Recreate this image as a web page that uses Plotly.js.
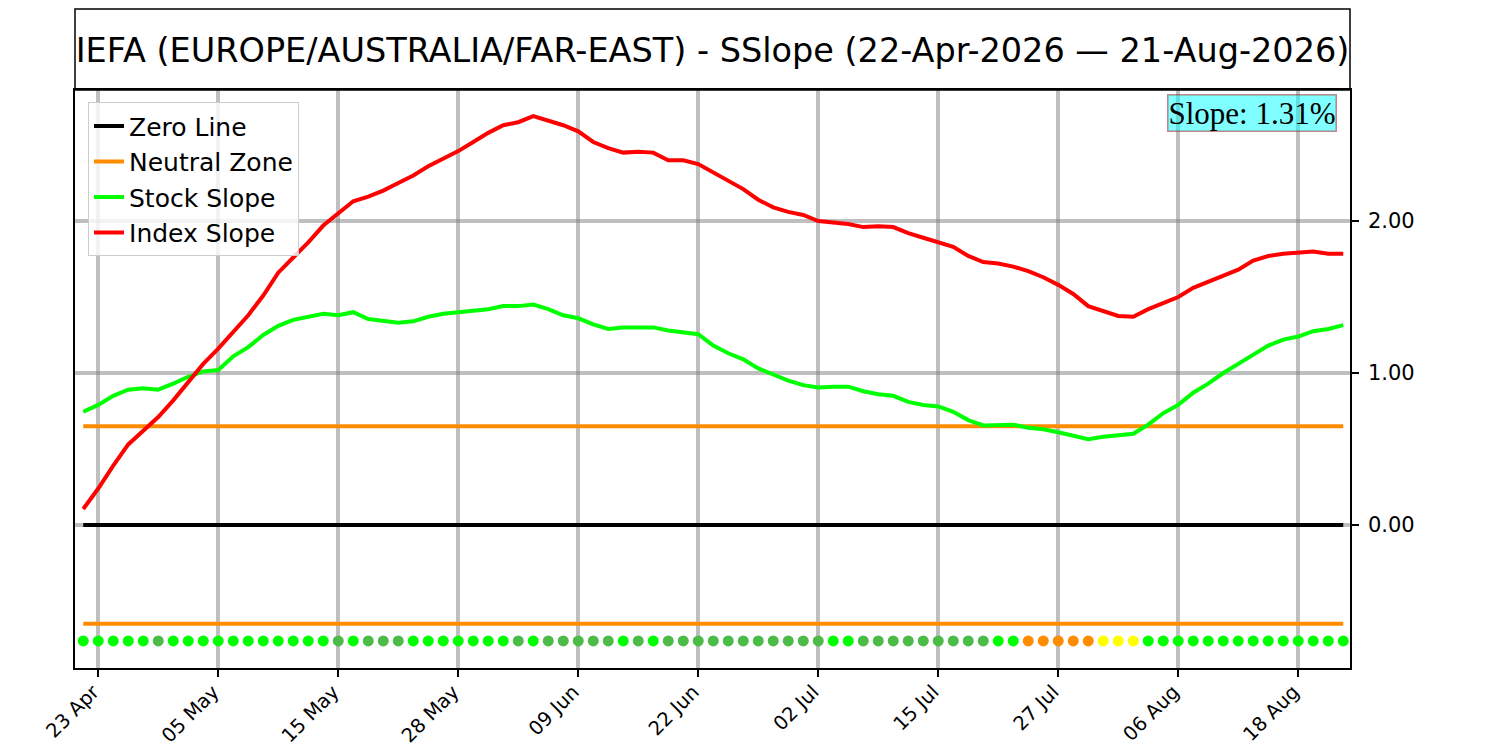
<!DOCTYPE html>
<html>
<head>
<meta charset="utf-8">
<script src="https://cdn.plot.ly/plotly-3.0.1.min.js"></script>
<style>body{margin:0;background:#fff}</style>
</head>
<body>
<div id="chart" style="width:1500px;height:750px"></div>
<script>
// trading days, 22 Apr 2026 -> 21 Aug 2026
const dates = [
  '2026-04-22','2026-04-23','2026-04-24','2026-04-27','2026-04-28','2026-04-29','2026-04-30',
  '2026-05-01','2026-05-04','2026-05-05','2026-05-06','2026-05-07','2026-05-08','2026-05-11',
  '2026-05-12','2026-05-13','2026-05-14','2026-05-15','2026-05-18','2026-05-19','2026-05-20',
  '2026-05-21','2026-05-22','2026-05-26','2026-05-27','2026-05-28','2026-05-29',
  '2026-06-01','2026-06-02','2026-06-03','2026-06-04','2026-06-05','2026-06-08','2026-06-09',
  '2026-06-10','2026-06-11','2026-06-12','2026-06-15','2026-06-16','2026-06-17','2026-06-18',
  '2026-06-22','2026-06-23','2026-06-24','2026-06-25','2026-06-26','2026-06-29','2026-06-30',
  '2026-07-01','2026-07-02','2026-07-06','2026-07-07','2026-07-08','2026-07-09','2026-07-10',
  '2026-07-13','2026-07-14','2026-07-15','2026-07-16','2026-07-17','2026-07-20','2026-07-21',
  '2026-07-22','2026-07-23','2026-07-24','2026-07-27','2026-07-28','2026-07-29','2026-07-30',
  '2026-07-31','2026-08-03','2026-08-04','2026-08-05','2026-08-06','2026-08-07','2026-08-10',
  '2026-08-11','2026-08-12','2026-08-13','2026-08-14','2026-08-17','2026-08-18','2026-08-19',
  '2026-08-20','2026-08-21'
];

const stockSlope = [
  0.745, 0.79, 0.85, 0.89, 0.90, 0.89, 0.93, 0.975, 1.01, 1.02,
  1.11, 1.17, 1.25, 1.31, 1.35, 1.37, 1.39, 1.38, 1.40, 1.355,
  1.34, 1.33, 1.34, 1.37, 1.39, 1.40, 1.41, 1.42, 1.44, 1.44,
  1.45, 1.42, 1.38, 1.36, 1.32, 1.29, 1.30, 1.30, 1.30, 1.28,
  1.27, 1.255, 1.18, 1.13, 1.09, 1.03, 0.99, 0.95, 0.92, 0.905,
  0.91, 0.91, 0.88, 0.86, 0.85, 0.81, 0.79, 0.78, 0.745, 0.69,
  0.655, 0.655, 0.66, 0.64, 0.63, 0.61, 0.585, 0.565, 0.58, 0.59,
  0.60, 0.66, 0.735, 0.79, 0.87, 0.93, 1.00, 1.06, 1.12, 1.18,
  1.22, 1.24, 1.275, 1.29, 1.315
];

const indexSlope = [
  0.105, 0.24, 0.39, 0.53, 0.62, 0.71, 0.82, 0.94, 1.06, 1.16,
  1.27, 1.38, 1.51, 1.66, 1.76, 1.86, 1.97, 2.05, 2.13, 2.16,
  2.20, 2.25, 2.30, 2.36, 2.41, 2.46, 2.52, 2.58, 2.63, 2.65,
  2.69, 2.66, 2.63, 2.59, 2.52, 2.48, 2.45, 2.455, 2.45, 2.40,
  2.40, 2.375, 2.32, 2.27, 2.21, 2.14, 2.09, 2.06, 2.04, 2.00,
  1.99, 1.98, 1.96, 1.965, 1.96, 1.92, 1.89, 1.86, 1.83, 1.77,
  1.73, 1.72, 1.70, 1.67, 1.63, 1.58, 1.52, 1.44, 1.41, 1.375,
  1.37, 1.42, 1.46, 1.50, 1.56, 1.60, 1.64, 1.68, 1.74, 1.77,
  1.785, 1.79, 1.80, 1.785, 1.785
];

// daily signal: G strong, g weak, O warning, Y caution
const dotStatus = [
  'G','G','G','G','G','g','G','G','G','G',
  'G','G','G','G','G','G','G','g','G','g',
  'g','g','G','G','G','G','G','G','G','g',
  'G','g','g','g','g','g','G','g','G','g',
  'g','g','g','g','g','g','g','g','g','g',
  'G','G','g','g','g','g','g','g','g','g',
  'g','G','G','O','O','O','O','O','Y','Y',
  'Y','G','G','G','G','G','G','G','G','G',
  'G','G','G','G','G'
];
const statusColors = {G: '#00ff00', g: '#4cbb47', O: '#ff8c00', Y: '#ffff00'};

const tickDates = ['2026-04-23','2026-05-05','2026-05-15','2026-05-28','2026-06-09','2026-06-22',
  '2026-07-02','2026-07-15','2026-07-27','2026-08-06','2026-08-18'];
const tickLabels = ['23 Apr','05 May','15 May','28 May','09 Jun','22 Jun',
  '02 Jul','15 Jul','27 Jul','06 Aug','18 Aug'];

const neutralLevel = 0.65;
const dotLevel = -0.763;
const currentSlope = 1.31;

const gridCol = 'rgba(128,128,128,0.5)';

const zeroLine = {
  x: dates, y: dates.map(() => 0), type: 'scatter', mode: 'lines',
  name: 'Zero Line', legendgroup: 'zero',
  line: {color: '#000000', width: 4}
};
const neutralUp = {
  x: dates, y: dates.map(() => neutralLevel), type: 'scatter', mode: 'lines',
  name: 'Neutral Zone', legendgroup: 'neutral',
  line: {color: '#ff8c00', width: 4}
};
const neutralDown = {
  x: dates, y: dates.map(() => -neutralLevel), type: 'scatter', mode: 'lines',
  name: 'Neutral Zone', legendgroup: 'neutral', showlegend: false,
  line: {color: '#ff8c00', width: 4}
};
const stockTrace = {
  x: dates, y: stockSlope, type: 'scatter', mode: 'lines',
  name: 'Stock Slope', legendgroup: 'stock',
  line: {color: '#00ff00', width: 4}
};
const indexTrace = {
  x: dates, y: indexSlope, type: 'scatter', mode: 'lines',
  name: 'Index Slope', legendgroup: 'index',
  line: {color: '#ff0000', width: 4}
};
const dots = {
  x: dates, y: dates.map(() => dotLevel), type: 'scatter', mode: 'markers',
  showlegend: false,
  marker: {size: 11, color: dotStatus.map(s => statusColors[s]), line: {width: 0}}
};

const data = [zeroLine, neutralUp, neutralDown, stockTrace, indexTrace, dots];

const layout = {
  width: 1500,
  height: 750,
  margin: {l: 75, r: 150, t: 90, b: 82},
  paper_bgcolor: '#ffffff',
  plot_bgcolor: '#ffffff',
  font: {family: 'DejaVu Sans', color: '#000000'},
  title: {
    text: 'IEFA (EUROPE/AUSTRALIA/FAR-EAST) - SSlope (22-Apr-2026 \u2014 21-Aug-2026)',
    font: {size: 33.5, family: 'DejaVu Sans'},
    x: 0.5, xref: 'paper', xanchor: 'center',
    y: 1 - 50 / 750, yref: 'container', yanchor: 'middle'
  },
  showlegend: true,
  legend: {
    x: 0.0102, y: 0.979, xanchor: 'left', yanchor: 'top',
    bgcolor: 'rgba(255,255,255,0.8)', bordercolor: '#cccccc', borderwidth: 1,
    font: {size: 25}, itemwidth: 30, traceorder: 'grouped', tracegroupgap: 0
  },
  xaxis: {
    type: 'category',
    range: [-0.55, 84.45],
    tickvals: tickDates, ticktext: tickLabels,
    tickangle: -45,
    tickfont: {size: 19.5},
    ticklabelstandoff: -4,
    ticklabelshift: -5,
    ticks: 'outside', ticklen: 7, tickwidth: 1.5, tickcolor: '#000',
    showgrid: true, gridcolor: gridCol, gridwidth: 3.5,
    showline: true, linecolor: '#000', linewidth: 1.5, mirror: true,
    zeroline: false
  },
  yaxis: {
    side: 'right',
    range: [-0.941, 2.862],
    tickvals: [0, 1, 2], tickformat: '.2f',
    tickfont: {size: 21},
    ticks: 'outside', ticklen: 7, tickwidth: 1.5, tickcolor: '#000',
    ticklabelstandoff: 5,
    showgrid: true, gridcolor: gridCol, gridwidth: 3.5,
    showline: true, linecolor: '#000', linewidth: 1.5, mirror: true,
    zeroline: false
  },
  shapes: [{
    type: 'rect', xref: 'paper', yref: 'paper',
    x0: 0, x1: 1, y0: 1, y1: 1 + 81 / 578,
    line: {color: '#000', width: 1.5}
  }],
  annotations: [{
    text: 'Slope: ' + currentSlope.toFixed(2) + '%',
    xref: 'paper', yref: 'paper', x: 1, y: 1,
    xanchor: 'right', yanchor: 'top', xshift: -13, yshift: -4,
    showarrow: false,
    font: {family: 'Liberation Serif', size: 31, color: '#000'},
    bgcolor: 'rgba(0,255,255,0.5)', bordercolor: 'rgba(165,42,42,0.55)',
    borderwidth: 1.5, borderpad: 0
  }]
};

Plotly.newPlot('chart', data, layout, {displayModeBar: false});
</script>
</body>
</html>
